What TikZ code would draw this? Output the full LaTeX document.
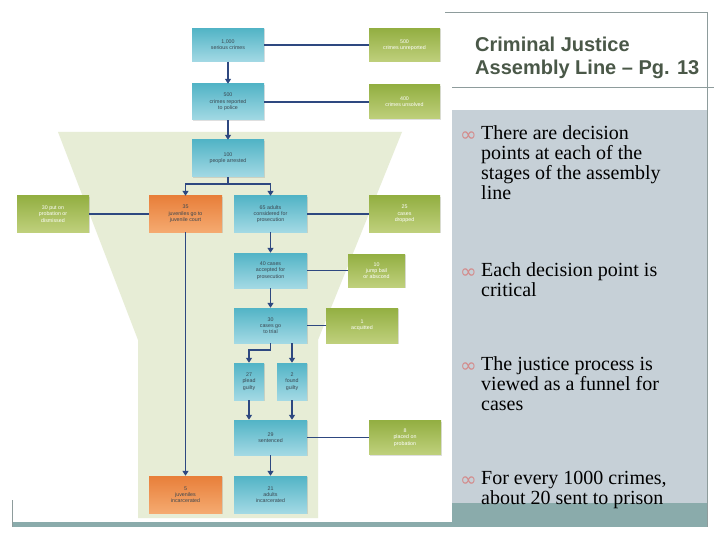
\documentclass[tikz,border=0pt]{standalone}
\usepackage{fontspec}
\setmainfont{Liberation Serif}
\newfontfamily\boxfont{Liberation Sans}
\newfontfamily\glyphfont{DejaVu Sans}
\usetikzlibrary{arrows.meta,shadows}
\definecolor{navy}{HTML}{2E4880}
\definecolor{cyanTop}{HTML}{52B4C6}
\definecolor{cyanBot}{HTML}{A3D9E4}
\definecolor{greenTop}{HTML}{93AF42}
\definecolor{greenBot}{HTML}{BFD07C}
\definecolor{orTop}{HTML}{E87F3A}
\definecolor{orBot}{HTML}{F5AA70}
\definecolor{boxtext}{HTML}{3A4650}
\definecolor{funnel}{HTML}{E7EDD6}
\definecolor{panel}{HTML}{C6D0D7}
\definecolor{band}{HTML}{8AABAB}
\definecolor{frame}{HTML}{8E9C9C}
\definecolor{titlecol}{HTML}{4A5848}
\definecolor{bulletpink}{HTML}{D48A8A}
\tikzset{
  bx/.style={inner sep=0pt, align=center, font=\boxfont\fontsize{5.3}{6.3}\selectfont,
    drop shadow={shadow xshift=1pt,shadow yshift=-1pt,opacity=0.25}},
  cyanbox/.style={bx, top color=cyanTop, bottom color=cyanBot, text=boxtext},
  greenbox/.style={bx, top color=greenTop, bottom color=greenBot, text=white},
  orangebox/.style={bx, top color=orTop, bottom color=orBot, text=boxtext},
  link/.style={navy, line width=1.6pt},
  flow/.style={link, -{Triangle[width=6pt,length=5pt]}},
  titletext/.style={anchor=base west, inner sep=0pt, text=titlecol,
    font=\boxfont\bfseries\fontsize{20}{23}\selectfont},
  bullettext/.style={anchor=base west, inner sep=0pt, font=\fontsize{20}{20}\selectfont},
  bulletmark/.style={anchor=base west, inner sep=0pt, text=bulletpink,
    font=\glyphfont\fontsize{20}{20}\selectfont},
}
\begin{document}
\begin{tikzpicture}[x=1pt,y=-1pt]
\useasboundingbox (0,0) rectangle (720,540);
\fill[white] (0,0) rectangle (720,540);

% right panel and frame
\fill[panel] (452,110) rectangle (707,503);
\fill[band] (452,503) rectangle (707,527);
\fill[band] (12,522) rectangle (707,527);
\draw[frame, line width=0.8pt] (445,12) -- (707,12) -- (707,527);
\draw[frame, line width=0.8pt] (452,87) -- (714,87);
\draw[frame, line width=0.8pt] (12,500) -- (12,527);

% funnel
\fill[funnel] (58,132) -- (402,132) -- (318,340) -- (318,518) -- (138,518) -- (138,340) -- cycle;

% boxes
\node[cyanbox, minimum width=72pt, minimum height=33pt] (c1) at (228,45) {1,000\\serious crimes};
\node[greenbox, minimum width=71pt, minimum height=33pt] (g1) at (404.5,45) {500\\crimes unreported};
\node[cyanbox, minimum width=72pt, minimum height=36pt] (c2) at (228,102) {500\\crimes reported\\to police};
\node[greenbox, minimum width=71pt, minimum height=34pt] (g2) at (404.5,102) {400\\crimes unsolved};
\node[cyanbox, minimum width=72pt, minimum height=37pt] (c3) at (228,158.5) {100\\people arrested};
\node[orangebox, minimum width=73pt, minimum height=36pt] (o1) at (185.5,214) {35\\juveniles go to\\juvenile court};
\node[cyanbox, minimum width=73pt, minimum height=36pt] (c4) at (270.5,214) {65 adults\\considered for\\prosecution};
\node[greenbox, minimum width=72pt, minimum height=36pt] (g3) at (53,214) {30 put on\\probation or\\dismissed};
\node[greenbox, minimum width=71pt, minimum height=36pt] (g4) at (404.5,214) {25\\cases\\dropped};
\node[cyanbox, minimum width=73pt, minimum height=35pt] (c5) at (270.5,270.5) {40 cases\\accepted for\\prosecution};
\node[greenbox, minimum width=57pt, minimum height=33pt] (g5) at (376.5,270.5) {10\\jump bail\\or abscond};
\node[cyanbox, minimum width=73pt, minimum height=35pt] (c6) at (270.5,325.5) {30\\cases go\\to trial};
\node[greenbox, minimum width=72pt, minimum height=35pt] (g6) at (362,325.5) {1\\acquitted};
\node[cyanbox, minimum width=30pt, minimum height=37pt] (c7) at (249,381.5) {27\\plead\\guilty};
\node[cyanbox, minimum width=30pt, minimum height=37pt] (c8) at (292,381.5) {2\\found\\guilty};
\node[cyanbox, minimum width=73pt, minimum height=35pt] (c9) at (270.5,437.5) {29\\sentenced};
\node[greenbox, minimum width=72pt, minimum height=34pt] (g7) at (405,437.5) {8\\placed on\\probation};
\node[orangebox, minimum width=73pt, minimum height=37pt] (o2) at (185.5,494.5) {5\\juveniles\\incarcerated};
\node[cyanbox, minimum width=73pt, minimum height=37pt] (c10) at (270.5,494.5) {21\\adults\\incarcerated};

% horizontal links
\draw[link] (c1.east) -- (c1.east -| g1.west);
\draw[link] (c2.east) -- (c2.east -| g2.west);
\draw[link] (g3.east) -- (g3.east -| o1.west);
\draw[link] (c4.east) -- (c4.east -| g4.west);
\draw[link] (c5.east) -- (c5.east -| g5.west);
\draw[link] (c6.east) -- (c6.east -| g6.west);
\draw[link] (c9.east) -- (c9.east -| g7.west);

% flow arrows
\draw[flow] (c1.south) -- (c2.north);
\draw[flow] (c2.south) -- (c3.north);
\draw[link] (c3.south) -- ++(0,7) coordinate (b1);
\draw[flow] (b1) -| (o1.north);
\draw[flow] (b1) -| (c4.north);
\draw[flow] (o1.south) -- (o2.north);
\draw[flow] (c4.south) -- (c5.north);
\draw[flow] (c5.south) -- (c6.north);
\draw[flow] (c6.south) -- ++(0,7) -| (c7.north);
\draw[flow] (c8.north |- c6.south) -- (c8.north);
\draw[flow] (c7.south) -- (c7.south |- c9.north);
\draw[flow] (c8.south) -- (c8.south |- c9.north);
\draw[flow] (c9.south) -- (c10.north);

% title
\node[titletext] (t1) at (475,52) {Criminal Justice};
\node[titletext] (t2) at (475,75) {Assembly Line – Pg. 13};

% bullets
\node[bulletmark] (m1) at (460,142) {∞};
\node[bullettext] (p1a) at (481,140) {There are decision};
\node[bullettext] (p1b) at (481,160) {points at each of the};
\node[bullettext] (p1c) at (481,180) {stages of the assembly};
\node[bullettext] (p1d) at (481,200) {line};

\node[bulletmark] (m2) at (460,278) {∞};
\node[bullettext] (p2a) at (481,276) {Each decision point is};
\node[bullettext] (p2b) at (481,296) {critical};

\node[bulletmark] (m3) at (460,372) {∞};
\node[bullettext] (p3a) at (481,370) {The justice process is};
\node[bullettext] (p3b) at (481,390) {viewed as a funnel for};
\node[bullettext] (p3c) at (481,410) {cases};

\node[bulletmark] (m4) at (460,486) {∞};
\node[bullettext] (p4a) at (481,484) {For every 1000 crimes,};
\node[bullettext] (p4b) at (481,504) {about 20 sent to prison};
\end{tikzpicture}
\end{document}
